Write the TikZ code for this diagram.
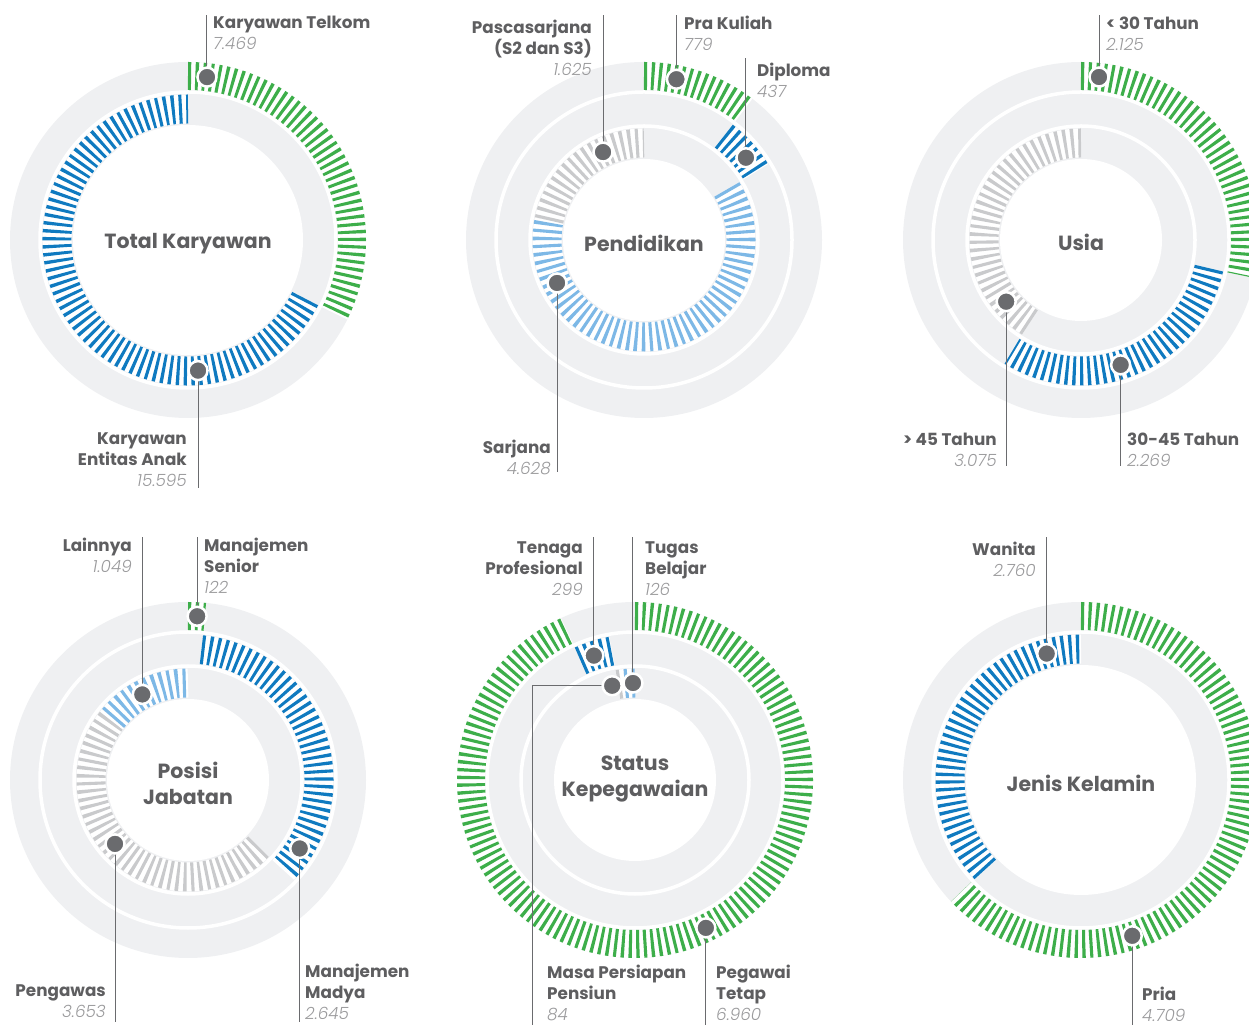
\documentclass[tikz,border=0pt]{standalone}
\usepackage{fontspec}
\setmainfont{Poppins}
\newfontfamily\lf{Poppins Bold}
\newfontfamily\nf{Poppins Light Italic}
\usetikzlibrary{calc}
\definecolor{gband}{HTML}{EFF0F2}
\definecolor{cgreen}{HTML}{3DAE4A}
\definecolor{cblue}{HTML}{0F7AC0}
\definecolor{clight}{HTML}{7DB8E6}
\definecolor{cgrey}{HTML}{C9CACC}
\definecolor{ctext}{HTML}{5E5E60}
\definecolor{cnum}{HTML}{9A9A9C}
\definecolor{cdot}{HTML}{6A6B6E}
\tikzset{
  band/.style={fill=gband},
  sepline/.style={draw=white, line width=3.5pt},
  ringbg/.style={draw=white, line width=#1},
  tickarc/.style={line width=#1, dash pattern=on 3.1pt off 4.2pt},
  dot/.style={circle, fill=cdot, draw=white, line width=2.5pt, inner sep=0pt, minimum size=19pt},
  lead/.style={draw=cdot, line width=1pt},
  lbl/.style={inner sep=0pt, text=ctext, font=\lf\fontsize{16.8}{20.8}\selectfont},
  lblL/.style={lbl, anchor=north west, align=left},
  lblR/.style={lbl, anchor=north east, align=right},
  ttl/.style={align=center, text=ctext, font=\lf\fontsize{20.5}{26}\selectfont},
}
\newcommand\seg[6]{%
  \draw[ringbg=#3] (#1) ++(#4:#2) arc[start angle=#4, end angle=#5, radius=#2];
  \draw[tickarc=#3, draw=#6] (#1) ++(#4:#2) arc[start angle=#4, end angle=#5, radius=#2];}
\newcommand\nm[1]{{\nf\color{cnum}#1}}
\begin{document}
\begin{tikzpicture}[x=1pt,y=1pt]
\useasboundingbox (0,0) rectangle (1249,1025);
\coordinate (c1) at (188,785);
\coordinate (c2) at (644,785);
\coordinate (c3) at (1081,785);
\coordinate (c4) at (188,245);
\coordinate (c5) at (635,245);
\coordinate (c6) at (1081,245);
% ---------- backgrounds
\foreach \c in {c1,c2,c3,c4,c5,c6} {
  \fill[band] (\c) circle[radius=178];
  \draw[sepline] (\c) circle[radius=148];
}
\foreach \c in {c2,c3,c4,c5} {
  \draw[sepline] (\c) circle[radius=114];
  \fill[white] (\c) circle[radius=81];
}
\foreach \c in {c1,c6} {
  \fill[white] (\c) circle[radius=115];
}
% ---------- chart 1
\seg{c1}{164}{28pt}{90}{-26.58}{cgreen}
\seg{c1}{131}{29pt}{-26.58}{-270}{cblue}
% ---------- chart 2
\seg{c2}{164}{28pt}{90}{52.45}{cgreen}
\seg{c2}{131}{29pt}{52.45}{31.39}{cblue}
\seg{c2}{97}{29pt}{31.39}{-191.68}{clight}
\seg{c2}{97}{29pt}{-191.68}{-270}{cgrey}
% ---------- chart 3
\seg{c3}{164}{28pt}{90}{-12.42}{cgreen}
\seg{c3}{131}{29pt}{-12.42}{-121.79}{cblue}
\seg{c3}{97}{29pt}{-121.79}{-270}{cgrey}
% ---------- chart 4
\seg{c4}{164}{28pt}{90}{84.12}{cgreen}
\seg{c4}{131}{29pt}{84.12}{-43.37}{cblue}
\seg{c4}{97}{29pt}{-43.37}{-219.44}{cgrey}
\seg{c4}{97}{29pt}{-219.44}{-270}{clight}
% ---------- chart 5
\seg{c5}{164}{28pt}{90}{-245.47}{cgreen}
\seg{c5}{131}{29pt}{-245.47}{-259.88}{cblue}
\seg{c5}{97}{29pt}{-259.88}{-263.93}{cgrey}
\seg{c5}{97}{29pt}{-263.93}{-270}{clight}
% ---------- chart 6
\seg{c6}{164}{28pt}{90}{-136.97}{cgreen}
\seg{c6}{131}{29pt}{-136.97}{-270}{cblue}
% ---------- dot positions
\coordinate (p1a) at ($(c1)+(83.35:164)$);
\coordinate (p1b) at ($(c1)+(-85.6:131)$);
\coordinate (p2a) at ($(c2)+(115:97)$);
\coordinate (p2b) at ($(c2)+(78.6:164)$);
\coordinate (p2c) at ($(c2)+(38.9:131)$);
\coordinate (p2d) at ($(c2)+(206.3:97)$);
\coordinate (p3a) at ($(c3)+(83.7:164)$);
\coordinate (p3b) at ($(c3)+(219.5:97)$);
\coordinate (p3c) at ($(c3)+(-72.4:131)$);
\coordinate (p4a) at ($(c4)+(118.1:97)$);
\coordinate (p4b) at ($(c4)+(86.8:164)$);
\coordinate (p4c) at ($(c4)+(221.2:97)$);
\coordinate (p4d) at ($(c4)+(-31.5:131)$);
\coordinate (p5a) at ($(c5)+(108.3:131)$);
\coordinate (p5b) at ($(c5)+(91.2:97)$);
\coordinate (p5c) at ($(c5)+(103.6:97)$);
\coordinate (p5d) at ($(c5)+(-64.4:164)$);
\coordinate (p6a) at ($(c6)+(105.2:131)$);
\coordinate (p6b) at ($(c6)+(-71.8:164)$);
% ---------- leader ends
\coordinate (e1a) at (p1a |- 0,1010);
\coordinate (e1b) at (p1b |- 0,537);
\coordinate (e2a) at (p2a |- 0,1010);
\coordinate (e2b) at (p2b |- 0,1010);
\coordinate (e2c) at (p2c |- 0,967);
\coordinate (e2d) at (p2d |- 0,553);
\coordinate (e3a) at (p3a |- 0,1010);
\coordinate (e3b) at (p3b |- 0,559);
\coordinate (e3c) at (p3c |- 0,559);
\coordinate (e4a) at (p4a |- 0,488);
\coordinate (e4b) at (p4b |- 0,488);
\coordinate (e4c) at (p4c |- 0,3);
\coordinate (e4d) at (p4d |- 0,3);
\coordinate (e5a) at (p5a |- 0,488);
\coordinate (e5b) at (p5b |- 0,488);
\coordinate (k5c) at (532,0);
\coordinate (e5d) at (p5d |- 0,0);
\coordinate (e6a) at (p6a |- 0,488);
\coordinate (e6b) at (p6b |- 0,0);
\foreach \p/\e in {p1a/e1a,p1b/e1b,p2a/e2a,p2b/e2b,p2c/e2c,p2d/e2d,p3a/e3a,p3b/e3b,p3c/e3c,
  p4a/e4a,p4b/e4b,p4c/e4c,p4d/e4d,p5a/e5a,p5b/e5b,p5d/e5d,p6a/e6a,p6b/e6b}
  \draw[lead] (\p) -- (\e);
\draw[lead] (p5c) -- (p5c -| k5c) -- (k5c);
% ---------- dots
\foreach \p in {p1a,p1b,p2a,p2b,p2c,p2d,p3a,p3b,p3c,p4a,p4b,p4c,p4d,p5a,p5b,p5c,p5d,p6a,p6b}
  \node[dot] (d\p) at (\p) {};
% ---------- titles
\node[ttl] (t1) at (188,781) {Total Karyawan};
\node[ttl] (t2) at (644,782) {Pendidikan};
\node[ttl] (t3) at (1081,783) {Usia};
\node[ttl] (t4) at (188,242) {Posisi\\Jabatan};
\node[ttl] (t5) at (635,246) {Status\\Kepegawaian};
\node[ttl] (t6) at (1081,242) {Jenis Kelamin};
% ---------- labels
\node[lblL] (l1a) at (213,1009) {Karyawan Telkom\\\nm{7.469}};
\node[lblR] (l1b) at (187,592) {Karyawan\\Entitas Anak\\\nm{15.595}};
\node[lblR] (l2a) at (592,1005) {Pascasarjana\\(S2 dan S3)\\\nm{1.625}};
\node[lblL] (l2b) at (684,1009) {Pra Kuliah\\\nm{779}};
\node[lblL] (l2c) at (757,962) {Diploma\\\nm{437}};
\node[lblR] (l2d) at (551,585) {Sarjana\\\nm{4.628}};
\node[lblL] (l3a) at (1106,1008) {< 30 Tahun\\\nm{2.125}};
\node[lblR] (l3b) at (997,592) {> 45 Tahun\\\nm{3.075}};
\node[lblL] (l3c) at (1127,592) {30-45 Tahun\\\nm{2.269}};
\node[lblR] (l4a) at (132,487) {Lainnya\\\nm{1.049}};
\node[lblL] (l4b) at (204,487) {Manajemen\\Senior\\\nm{122}};
\node[lblR] (l4c) at (106,40) {Pengawas\\\nm{3.653}};
\node[lblL] (l4d) at (305,61) {Manajemen\\Madya\\\nm{2.645}};
\node[lblR] (l5a) at (583,483) {Tenaga\\Profesional\\\nm{299}};
\node[lblL] (l5b) at (645,483) {Tugas\\Belajar\\\nm{126}};
\node[lblL] (l5c) at (547,60) {Masa Persiapan\\Pensiun\\\nm{84}};
\node[lblL] (l5d) at (716,60) {Pegawai\\Tetap\\\nm{6.960}};
\node[lblR] (l6a) at (1036,483) {Wanita\\\nm{2.760}};
\node[lblL] (l6b) at (1142,38) {Pria\\\nm{4.709}};
\end{tikzpicture}
\end{document}
